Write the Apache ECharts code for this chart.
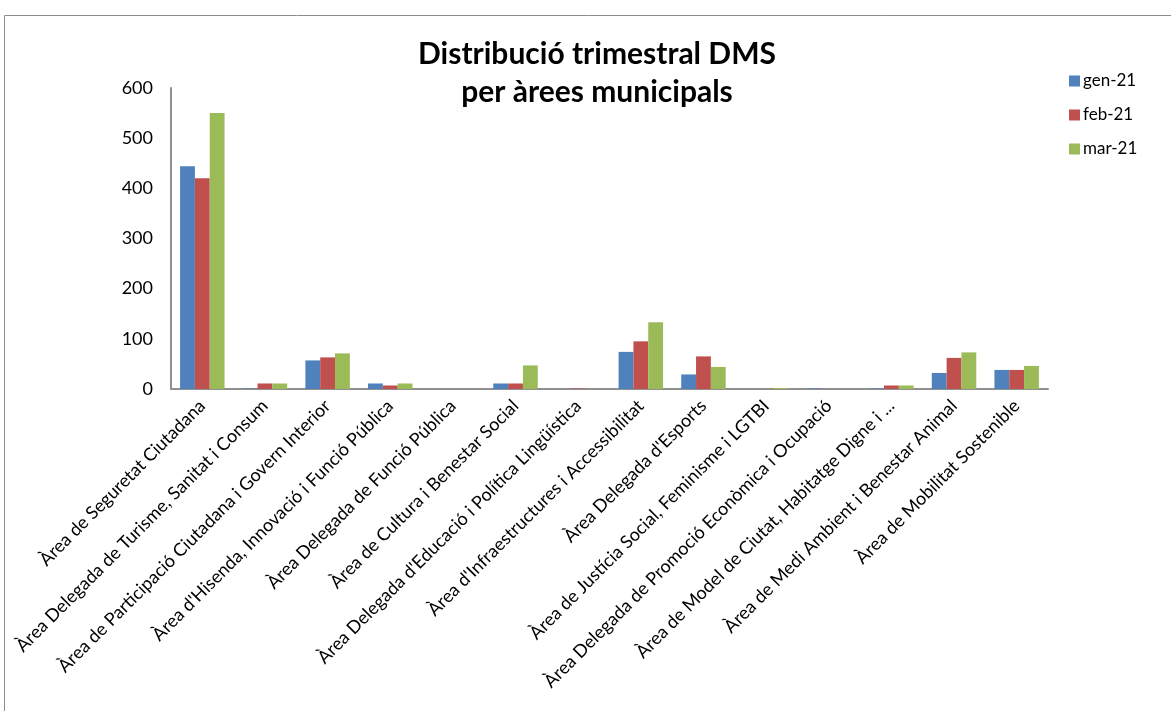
<!DOCTYPE html>
<html>
<head>
<meta charset="utf-8">
<script src="https://cdn.jsdelivr.net/npm/echarts@6/dist/echarts.min.js"></script>
<style>
  html, body { margin: 0; padding: 0; background: #fff; }
  #chart { width: 1171px; height: 711px; }
</style>
</head>
<body>
<div id="chart"></div>
<script>
// Municipal areas (category axis)
const areas = [
  "Àrea de Seguretat Ciutadana",
  "Àrea Delegada de Turisme, Sanitat i Consum",
  "Àrea de Participació Ciutadana i Govern Interior",
  "Àrea d'Hisenda, Innovació i Funció Pública",
  "Àrea Delegada de Funció Pública",
  "Àrea de Cultura i Benestar Social",
  "Àrea Delegada d'Educació i Política Lingüística",
  "Àrea d'Infraestructures i Accessibilitat",
  "Àrea Delegada d'Esports",
  "Àrea de Justícia Social, Feminisme i LGTBI",
  "Àrea Delegada de Promoció Econòmica i Ocupació",
  "Àrea de Model de Ciutat, Habitatge Digne i ...",
  "Àrea de Medi Ambient i Benestar Animal",
  "Àrea de Mobilitat Sostenible"
];

// Monthly counts per area
const gen21 = [444, 1, 57, 11, 0, 11, 0, 74, 29, 0, 1, 1, 32, 38];
const feb21 = [420, 11, 63, 7, 0, 11, 1, 95, 65, 0, 0, 7, 62, 38];
const mar21 = [550, 11, 71, 11, 0, 47, 0, 133, 44, 2, 0, 7, 73, 46];

const seriesNames = ["gen-21", "feb-21", "mar-21"];
const yTicks = [0, 100, 200, 300, 400, 500, 600];

const colors = ["#4F81BD", "#C0504D", "#9BBB59"];
const font = "Lato, 'Open Sans', sans-serif";

const chart = echarts.init(document.getElementById("chart"));

const bar = (name, data, color) => ({
  name: name,
  type: "bar",
  data: data,
  barGap: "0%",
  barCategoryGap: "29%",
  itemStyle: { color: color },
  emphasis: { disabled: true }
});

chart.setOption({
  animation: false,
  color: colors,
  title: {
    text: "Distribució trimestral DMS\nper àrees municipals",
    left: 592,
    top: 30,
    textAlign: "center",
    textStyle: { fontFamily: font, fontWeight: "bold", fontSize: 30, lineHeight: 38, color: "#000" }
  },
  legend: {
    orient: "vertical",
    left: 1069,
    top: 72,
    padding: 0,
    itemWidth: 11,
    itemHeight: 11,
    itemGap: 16,
    icon: "rect",
    data: seriesNames,
    textStyle: { fontFamily: font, fontSize: 17, lineHeight: 18, color: "#000", padding: [0, 0, 0, -2] }
  },
  graphic: [{
    type: "rect",
    shape: { x: 4.5, y: 15.5, width: 1200, height: 800 },
    style: { fill: "none", stroke: "#8c8c8c", lineWidth: 1 },
    silent: true,
    z: -1
  }],
  grid: { left: 171, top: 88, right: 123, bottom: 322 },
  xAxis: {
    type: "category",
    data: areas,
    axisLine: { lineStyle: { color: "#909090", width: 2 } },
    axisTick: { show: false },
    axisLabel: {
      interval: 0,
      rotate: 45,
      margin: 14,
      fontFamily: font,
      fontSize: 18,
      color: "#000"
    }
  },
  yAxis: {
    type: "value",
    min: yTicks[0],
    max: yTicks[yTicks.length - 1],
    interval: 100,
    axisLine: { show: true, lineStyle: { color: "#909090", width: 2 } },
    axisTick: { show: false },
    splitLine: { show: false },
    axisLabel: { margin: 18, fontFamily: font, fontSize: 18, color: "#000" }
  },
  series: [
    bar(seriesNames[0], gen21, colors[0]),
    bar(seriesNames[1], feb21, colors[1]),
    bar(seriesNames[2], mar21, colors[2])
  ]
});
</script>
</body>
</html>
